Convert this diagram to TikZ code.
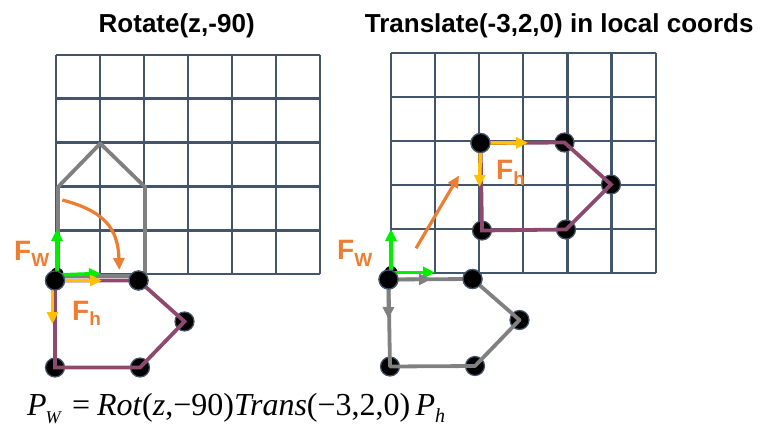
\documentclass[tikz,border=0pt]{standalone}
\usepackage{fontspec}
\setmainfont{Liberation Serif}
\newfontfamily\lsans{Liberation Sans}
\usetikzlibrary{arrows.meta}
\definecolor{gridc}{HTML}{44546A}
\definecolor{purp}{HTML}{8E4A6E}
\definecolor{grayc}{HTML}{808080}
\definecolor{orng}{HTML}{ED7D31}
\definecolor{yell}{HTML}{FFC000}
\definecolor{grn}{HTML}{00EE00}
\begin{document}
\begin{tikzpicture}[x=1pt,y=-1pt,
  gridline/.style={draw=gridc,line width=2.3pt},
  dot/.style={circle,fill=black,draw=gridc,line width=1.2pt,minimum size=19pt,inner sep=0pt},
  smalldot/.style={circle,fill=black,minimum size=13pt,inner sep=0pt},
  pedge/.style={draw=purp,line width=3.8pt},
  gedge/.style={draw=grayc,line width=3.8pt,line join=round},
  tipA/.style={-{Triangle[length=12pt,width=11pt]}},
  greenarrow/.style={draw=grn,line width=3.6pt,tipA},
  yellowarrow/.style={draw=yell,line width=3.6pt,tipA},
  grayarrow/.style={draw=grayc,line width=3.6pt,tipA},
  orangearrow/.style={draw=orng,line width=3.2pt,-{Triangle[length=12pt,width=11pt]}},
  title/.style={font=\lsans\bfseries\fontsize{26}{30}\selectfont,inner sep=0pt,anchor=base},
  flabel/.style={font=\lsans\bfseries\fontsize{28}{30}\selectfont,text=orng,inner sep=0pt,anchor=base west},
]
\useasboundingbox (0,0) rectangle (761,429);

% titles
\node[title] (t1) at (176.7,32) {Rotate(z,-90)};
\node[title] (t2) at (559.2,32) {Translate(-3,2,0) in local coords};

% grids
\foreach \i in {0,...,6} {
  \draw[gridline] ({56+44*\i},54.7) -- ({56+44*\i},274.3);
  \draw[gridline] ({390.7+44.17*\i},53.3) -- ({390.7+44.17*\i},273.3);
}
\foreach \j in {0,...,5} {
  \draw[gridline] (56,{54.7+43.92*\j}) -- (320,{54.7+43.92*\j});
  \draw[gridline] (390.7,{53.3+44*\j}) -- (655.7,{53.3+44*\j});
}

% house (original)
\coordinate (h1) at (58,276);
\coordinate (h2) at (58,187);
\coordinate (h3) at (100.3,143.5);
\coordinate (h4) at (145,187);
\coordinate (h5) at (145,276);
\draw[gedge] (h1) -- (h2) -- (h3) -- (h4) -- (h5) -- cycle;

% left rotated pentagon
\node[dot] (l1) at (55,280.5) {};
\node[dot] (l2) at (138.5,280.5) {};
\node[dot] (l3) at (184.5,321.5) {};
\node[dot] (l4) at (140,367.5) {};
\node[dot] (l5) at (55,367.5) {};
\draw[pedge] (l1.center) -- (l2.center) -- (l3.center) -- (l4.center) -- (l5.center) -- cycle;

% right gray pentagon
\node[dot] (g1) at (388.5,279.5) {};
\node[dot] (g2) at (472.5,279) {};
\node[dot] (g3) at (519.5,320) {};
\node[dot] (g4) at (475,366) {};
\node[dot] (g5) at (390,366.5) {};
\draw[gedge] (g1.center) -- (g2.center) -- (g3.center) -- (g4.center) -- (g5.center) -- cycle;

% right purple pentagon
\node[dot] (r1) at (480.5,143) {};
\node[dot] (r2) at (564.5,142.5) {};
\node[dot] (r3) at (611,184.5) {};
\node[dot] (r4) at (566,229.5) {};
\node[dot] (r5) at (482,230.5) {};
\draw[pedge] (r1.center) -- (r2.center) -- (r3.center) -- (r4.center) -- (r5.center) -- cycle;

% origin markers behind world frames
\node[smalldot] (o1) at (57,274) {};
\node[smalldot] (o2) at (391,272.5) {};

% left frames
\coordinate (lwx) at (101,273.5);
\coordinate (lwy) at (57,229);
\coordinate (lwo) at (57,275);
\draw[greenarrow] (lwo) -- (lwy);
\draw[greenarrow] (lwo) -- (lwx);
\coordinate (lhx) at (102,280.5);
\coordinate (lhy) at (52.5,324);
\draw[yellowarrow] (l1.center) -- (lhx);
\draw[yellowarrow] (52.5,281) -- (lhy);

% right frames
\coordinate (rwo) at (391,273.5);
\coordinate (rwx) at (435,272.5);
\coordinate (rwy) at (391,229);
\draw[greenarrow] (rwo) -- (rwy);
\draw[greenarrow] (391,272.5) -- (rwx);
\coordinate (ghx) at (431,279.3);
\coordinate (ghy) at (388.4,319);
\draw[grayarrow] (g1.center) -- (ghx);
\draw[grayarrow] (g1.center) -- (ghy);
\coordinate (rhx) at (528,142.7);
\coordinate (rhy) at (479.5,187);
\draw[yellowarrow] (r1.center) -- (rhx);
\draw[yellowarrow] (r1.center) -- (rhy);

% redraw dots on top
\foreach \p in {{55,280.5},{138.5,280.5},{388.5,279.5},{472.5,279},{480.5,143}} {
  \node[dot] at (\p) {};
}

% orange motion arrows
\coordinate (oa1) at (62.3,200);
\coordinate (oa2) at (119.3,270);
\draw[orangearrow] (oa1) .. controls (104,211) and (118,228) .. (oa2);
\coordinate (ob1) at (416,248.3);
\coordinate (ob2) at (459,175.5);
\draw[orangearrow] (ob1) -- (ob2);

% labels
\node[flabel] (fw1) at (14,260) {F\raisebox{-6.5pt}{\fontsize{19}{19}\selectfont W}};
\node[flabel] (fh1) at (72,320) {F\raisebox{-5.5pt}{\fontsize{19}{19}\selectfont h}};
\node[flabel] (fw2) at (337,259.5) {F\raisebox{-6.5pt}{\fontsize{19}{19}\selectfont W}};
\node[flabel] (fh2) at (496,179.5) {F\raisebox{-5.5pt}{\fontsize{19}{19}\selectfont h}};

% equation
\node[anchor=base west,inner sep=0pt] (eq) at (27,415) {\fontsize{32}{36}\selectfont\textit{P}\kern-1pt\raisebox{-8pt}{\fontsize{18}{18}\selectfont\textit{W}}\hspace{10pt}=\hspace{7pt}\textit{Rot}(\textit{z},−90)\textit{Trans}(−3,2,0)\,\textit{P}\raisebox{-7pt}{\fontsize{20}{20}\selectfont\textit{h}}};
\end{tikzpicture}
\end{document}
